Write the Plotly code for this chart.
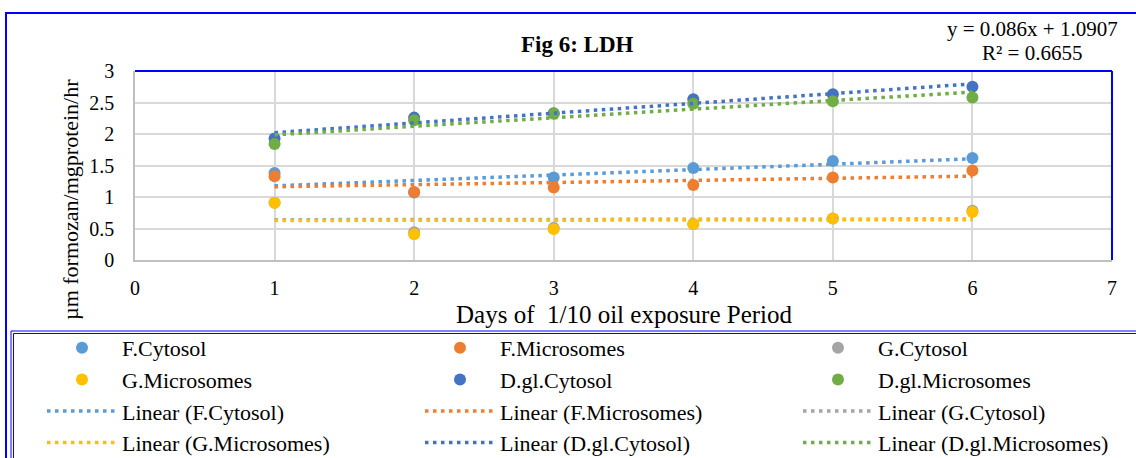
import numpy as np
import plotly.graph_objects as go

# ---- data -------------------------------------------------------------
DAYS = [1, 2, 3, 4, 5, 6]

F_CYTOSOL = [1.38, 1.07, 1.31, 1.46, 1.57, 1.62]
F_MICROSOMES = [1.33, 1.08, 1.15, 1.19, 1.31, 1.42]
G_CYTOSOL = [0.91, 0.44, 0.51, 0.57, 0.66, 0.78]
G_MICROSOMES = [0.91, 0.41, 0.49, 0.57, 0.66, 0.76]
DGL_CYTOSOL = [1.93, 2.26, 2.33, 2.55, 2.63, 2.75]
DGL_MICROSOMES = [1.84, 2.22, 2.32, 2.48, 2.52, 2.58]

SERIES_NAMES = ["F.Cytosol", "F.Microsomes", "G.Cytosol",
                "G.Microsomes", "D.gl.Cytosol", "D.gl.Microsomes"]
SERIES_VALUES = [F_CYTOSOL, F_MICROSOMES, G_CYTOSOL,
                 G_MICROSOMES, DGL_CYTOSOL, DGL_MICROSOMES]

X_TICKS = [0, 1, 2, 3, 4, 5, 6, 7]
Y_TICKS = [0, 0.5, 1, 1.5, 2, 2.5, 3]

# fitted trendline reported for F.Cytosol
FCYT_SLOPE = 0.086
FCYT_INTERCEPT = 1.0907
FCYT_R2 = 0.6655

# ---- styling ------------------------------------------------------------
COLORS = ["#5B9BD5", "#ED7D31", "#A5A5A5", "#FFC000", "#4472C4", "#70AD47"]
LEGEND_OF = ["legend", "legend2", "legend3", "legend", "legend2", "legend3"]
FONT = "Liberation Serif, Times New Roman, serif"
BLUE = "#0000FF"

W, H = 1136, 458
ML, MR, MT, MB = 135, 24, 71, 198
PW = W - ML - MR
PH = H - MT - MB


def px_x(x):
    """pixel column -> paper x"""
    return (x - ML) / PW


def px_y(y):
    """pixel row (from top) -> paper y"""
    return (MT + PH - y) / PH


fig = go.Figure()

# scatter markers
for name, vals, col, lg in zip(SERIES_NAMES, SERIES_VALUES, COLORS, LEGEND_OF):
    fig.add_trace(go.Scatter(
        x=DAYS, y=vals, mode="markers", name=name, legend=lg,
        marker=dict(color=col, size=12, line=dict(width=0)),
    ))

# linear trendlines
for name, vals, col, lg in zip(SERIES_NAMES, SERIES_VALUES, COLORS, LEGEND_OF):
    xs = np.array([DAYS[0], DAYS[-1]], dtype=float)
    if name == "F.Cytosol":
        slope, intercept = FCYT_SLOPE, FCYT_INTERCEPT
    else:
        slope, intercept = np.polyfit(DAYS, vals, 1)
    fig.add_trace(go.Scatter(
        x=xs, y=slope * xs + intercept, mode="lines",
        name=f"Linear ({name})", legend=lg,
        line=dict(color=col, width=3.5, dash="3.5px,4.5px"),
    ))

axis_common = dict(
    showgrid=True, gridcolor="#D9D9D9", gridwidth=1.5,
    showline=True, linecolor="#BFBFBF", linewidth=1.5,
    zeroline=False, ticks="outside", tickcolor="rgba(0,0,0,0)",
    tickfont=dict(family=FONT, size=20, color="black"),
)

legend_common = dict(
    orientation="v", xanchor="left", yanchor="top",
    yref="paper", xref="paper",
    font=dict(family=FONT, size=22, color="black"),
    bgcolor="rgba(0,0,0,0)", borderwidth=0, itemwidth=70,
    itemclick=False,
)
LEGEND_TEXT_X = [122, 500, 878]

annotations = [
    dict(text="<b>Fig 6: LDH</b>", x=px_x(577), y=px_y(45),
         font=dict(size=23)),
    dict(text=f"y = {FCYT_SLOPE}x + {FCYT_INTERCEPT}", x=px_x(1032), y=px_y(28.5),
         font=dict(size=21)),
    dict(text=f"R² = {FCYT_R2}", x=px_x(1032), y=px_y(52.5),
         font=dict(size=21)),
    dict(text="µm formozan/mgprotein/hr", x=px_x(70), y=px_y(200),
         textangle=-90, font=dict(size=22)),
    dict(text="Days of  1/10 oil exposure Period", x=px_x(624), y=px_y(314),
         font=dict(size=25)),
]
for a in annotations:
    a.update(xref="paper", yref="paper", showarrow=False,
             xanchor="center", yanchor="middle")
    a["font"].update(family=FONT, color="black")

shapes = [
    # chart border
    dict(type="rect", x0=px_x(6), x1=px_x(1150), y0=px_y(13), y1=px_y(480),
         line=dict(color=BLUE, width=2)),
    # legend double frame
    dict(type="rect", x0=px_x(11), x1=px_x(1150), y0=px_y(331), y1=px_y(480),
         line=dict(color=BLUE, width=1)),
    dict(type="rect", x0=px_x(13.5), x1=px_x(1150), y0=px_y(333.5), y1=px_y(480),
         line=dict(color=BLUE, width=1)),
    # plot area top and right edges
    dict(type="line", x0=0, x1=1, y0=1, y1=1, line=dict(color=BLUE, width=2)),
    dict(type="line", x0=1, x1=1, y0=0, y1=1, line=dict(color=BLUE, width=2)),
]
for s in shapes:
    s.update(xref="paper", yref="paper", layer="above")

layout = dict(
    width=W, height=H,
    margin=dict(l=ML, r=MR, t=MT, b=MB, autoexpand=False),
    paper_bgcolor="white", plot_bgcolor="white",
    font=dict(family=FONT, color="black"),
    xaxis=dict(range=[0, 7], tickvals=X_TICKS, ticklen=9, **axis_common),
    yaxis=dict(range=[0, 3], tickvals=Y_TICKS, ticklen=15, **axis_common),
    annotations=annotations, shapes=shapes, showlegend=True,
)
for key, tx in zip(["legend", "legend2", "legend3"], LEGEND_TEXT_X):
    layout[key] = dict(x=px_x(tx - 80), y=px_y(327), **legend_common)

fig.update_layout(**layout)
fig.write_html("out.html")
